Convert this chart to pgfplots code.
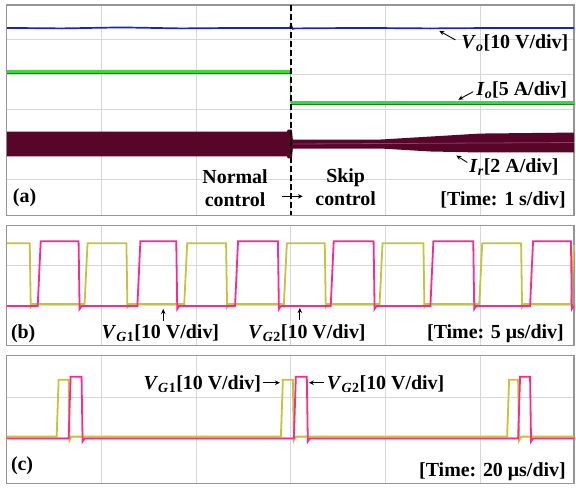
\documentclass[border=0pt]{standalone}
\usepackage{fontspec}
\setmainfont{Liberation Serif}
\usepackage{pgfplots}
\pgfplotsset{compat=1.18}
\usetikzlibrary{arrows.meta}
\definecolor{vo}{RGB}{25,35,195}
\definecolor{io}{RGB}{60,215,60}
\definecolor{iodark}{RGB}{25,130,25}
\definecolor{ir}{RGB}{88,5,42}
\definecolor{irc}{RGB}{150,60,100}
\definecolor{vgone}{RGB}{195,195,60}
\definecolor{vgtwo}{RGB}{255,40,140}
\definecolor{framec}{RGB}{150,150,150}
\definecolor{gridc}{RGB}{215,215,215}
\pgfplotsset{osc/.style={scale only axis, width=569bp, xmin=5, xmax=574, y dir=reverse,
  xtick={100,195,290,385,480}, xticklabels={}, yticklabels={},
  tick style={draw=none}, grid=major, major grid style={gridc, line width=0.8bp},
  axis line style={framec, line width=1.3bp}, clip=false, anchor=north west}}
\tikzset{lab/.style={font=\fontsize{20bp}{23bp}\selectfont\bfseries, inner sep=0pt},
  arr/.style={-{Stealth[length=5bp,width=4.5bp]}, line width=0.9bp}}
\newcommand{\sub}[1]{\textsubscript{\textit{#1}}}
\begin{document}
\begin{tikzpicture}
\path (0bp,0bp) rectangle (576bp,-487bp);
% ---------------- (a)
\begin{axis}[osc, at={(5bp,-5bp)}, height=211bp, ymin=5, ymax=216, ytick={40,75,110,145,180}]
\addplot[fill=ir, draw=none] coordinates {(5,132) (286,132) (287,130) (291,130) (292,140) (380,140) (430,137) (480,134) (574,133) (574,153) (480,153) (430,152) (380,149) (292,149) (291,159) (287,159) (286,157) (5,157)} -- cycle;
\addplot[irc, line width=0.8bp] coordinates {(292,144.5) (574,143)};
\addplot[vo, line width=1.7bp] coordinates {(5,28) (60,28.5) (120,27.5) (180,28.5) (240,28) (289,28) (290,25) (292,29) (294,28.5) (360,28) (430,28.5) (500,28) (574,28)};
\addplot[iodark, line width=4.2bp] coordinates {(5,72) (290,72)};
\addplot[iodark, line width=4.2bp] coordinates {(290,103) (574,103)};
\addplot[io, line width=2.8bp] coordinates {(5,72) (290,72)};
\addplot[io, line width=2.8bp] coordinates {(290,103) (574,103)};
\addplot[io, line width=1bp] coordinates {(290,72) (290,103)};
\addplot[black, line width=1.4bp, dash pattern=on 6bp off 3bp] coordinates {(290,5) (290,216)};
\node[lab, anchor=base west] at (axis cs:11,203) {(a)};
\node[lab, anchor=base] at (axis cs:234,184) {Normal};
\node[lab, anchor=base] at (axis cs:234,207) {control};
\node[lab, anchor=base] at (axis cs:345,183) {Skip};
\node[lab, anchor=base] at (axis cs:345,206) {control};
\draw[arr] (axis cs:281,197) -- (axis cs:302,197);
\node[lab, anchor=base east] at (axis cs:566,206) {[Time: 1 s/div]};
\node[lab, anchor=base west] at (axis cs:461,49) {\textit{V}\sub{o}[10 V/div]};
\draw[arr] (axis cs:455,40) -- (axis cs:439,31);
\node[lab, anchor=base west] at (axis cs:476,96) {\textit{I}\sub{o}[5 A/div]};
\draw[arr] (axis cs:473,92) -- (axis cs:458,100);
\node[lab, anchor=base west] at (axis cs:469,173) {\textit{I}\sub{r}[2 A/div]};
\draw[arr] (axis cs:467,163) -- (axis cs:456,156);
\end{axis}
% ---------------- (b)
\begin{axis}[osc, at={(5bp,-226bp)}, height=121bp, ymin=226, ymax=347, ytick={266,306}]
\addplot[vgone, line width=1.8bp] coordinates {(5,244) (28,244) (29,308) (31,305) (83,305) (86,244) (125,244) (126,308) (128,305) (183,305) (186,244) (225,244) (226,308) (228,305) (283,305) (286,244) (324,244) (325,308) (327,305) (379,305) (382,244) (423,244) (424,308) (426,305) (479,305) (482,244) (521,244) (522,308) (524,305) (571,305) (574,246)};
\addplot[vgtwo, line width=1.8bp] coordinates {(5,307) (36,307) (39,242) (77,242) (78,310) (80,307) (136,307) (139,242) (175,242) (176,310) (178,307) (234,307) (237,242) (277,242) (278,310) (280,307) (330,307) (333,242) (373,242) (374,310) (376,307) (430,307) (433,242) (473,242) (474,310) (476,307) (530,307) (533,242) (571,242) (572,310) (574,307)};
\node[lab, anchor=base west] at (axis cs:9,340) {(b)};
\node[lab, anchor=base west] at (axis cs:100,340) {\textit{V}\sub{G}\textsubscript{1}[10 V/div]};
\draw[arr] (axis cs:162,322) -- (axis cs:162,310);
\node[lab, anchor=base west] at (axis cs:247,340) {\textit{V}\sub{G}\textsubscript{2}[10 V/div]};
\draw[arr] (axis cs:299,321) -- (axis cs:299,309);
\node[lab, anchor=base east] at (axis cs:564,340) {[Time: 5 μs/div]};
\end{axis}
% ---------------- (c)
\begin{axis}[osc, at={(5bp,-357bp)}, height=128bp, ymin=357, ymax=485, ytick={399,439}]
\addplot[vgone, line width=1.8bp] coordinates {(5,438) (55,438) (57,381) (67,381) (68,442) (70,438) (280,438) (282,381) (292,381) (293,442) (295,438) (507,438) (509,381) (518,381) (519,442) (521,438) (574,438)};
\addplot[vgtwo, line width=1.8bp] coordinates {(5,440) (67,440) (69,378) (80,378) (81,443) (83,440) (293,440) (295,378) (306,378) (307,443) (309,440) (518,440) (520,378) (530,378) (531,443) (533,440) (574,440)};
\node[lab, anchor=base west] at (axis cs:142,391) {\textit{V}\sub{G}\textsubscript{1}[10 V/div]};
\draw[arr] (axis cs:262,384) -- (axis cs:279,384);
\draw[arr] (axis cs:323,384) -- (axis cs:308,384);
\node[lab, anchor=base west] at (axis cs:326,391) {\textit{V}\sub{G}\textsubscript{2}[10 V/div]};
\node[lab, anchor=base west] at (axis cs:9,472) {(c)};
\node[lab, anchor=base east] at (axis cs:566,478) {[Time: 20 μs/div]};
\end{axis}
\end{tikzpicture}
\end{document}
